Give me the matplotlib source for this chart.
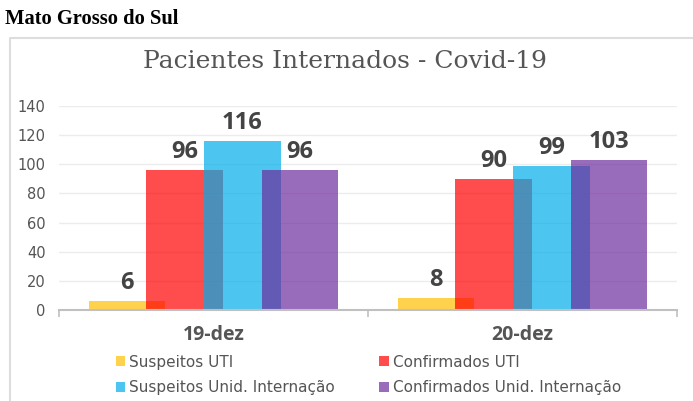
import matplotlib
matplotlib.use('Agg')
import matplotlib.pyplot as plt
import numpy as np
from matplotlib.lines import Line2D
from matplotlib.patches import Patch

categories = ['19-dez', '20-dez']
series_names = ['Suspeitos UTI', 'Confirmados UTI',
                'Suspeitos Unid. Internação', 'Confirmados Unid. Internação']
suspeitos_uti = [6, 8]
confirmados_uti = [96, 90]
suspeitos_unid = [116, 99]
confirmados_unid = [96, 103]
y_ticks = [0, 20, 40, 60, 80, 100, 120, 140]

colors = ['#ffc001', '#ff0000', '#00aeea', '#6e2d9e']
values = [suspeitos_uti, confirmados_uti, suspeitos_unid, confirmados_unid]

fig = plt.figure(figsize=(6.93, 4.01), dpi=100)
ax = fig.add_axes([59 / 693, 1 - 310 / 401, (677 - 59) / 693, (310 - 106) / 401])

x = np.arange(len(categories))
step = 0.187
width = 0.247
handles = []
for i, (vals, col) in enumerate(zip(values, colors)):
    pos = x + (i - 1.5) * step
    bars = ax.bar(pos, vals, width=width, color=col, alpha=0.7, linewidth=0, zorder=2 + i)
    handles.append(Patch(facecolor=col, alpha=0.7, linewidth=0))
    for p, v in zip(pos, vals):
        ax.annotate(str(v), (p, v), xytext=(0, 8.6), textcoords='offset points',
                    ha='center', va='baseline', fontsize=17, fontweight='bold',
                    family='Open Sans', color='#444444', zorder=10)

ax.set_xlim(-0.5, 1.5)
ax.set_ylim(0, 140)
ax.set_yticks(y_ticks)
ax.set_yticklabels([str(t) for t in y_ticks], fontsize=10.5, color='#555555')
ax.tick_params(axis='y', length=0, pad=9.5)
ax.grid(axis='y', color='#ececec', linewidth=1, zorder=0)
ax.set_axisbelow(True)

ax.set_xticks(x)
ax.set_xticklabels(categories, fontsize=14, fontweight='bold', family='Open Sans', color='#555555')
ax.set_xticks([-0.5, 0.5, 1.5], minor=True)
ax.tick_params(axis='x', which='major', length=0, pad=11)
ax.tick_params(axis='x', which='minor', length=5, color='#c0c0c0', width=1.2)

for s in ['top', 'right', 'left']:
    ax.spines[s].set_visible(False)
ax.spines['bottom'].set_color('#c0c0c0')
ax.spines['bottom'].set_linewidth(1.5)
ax.spines['bottom'].set_zorder(12)

order = [0, 2, 1, 3]
leg = fig.legend([handles[k] for k in order], [series_names[k] for k in order],
                 ncol=2, loc='center', bbox_to_anchor=(368.5 / 693, 1 - 375 / 401),
                 frameon=False, fontsize=11, handlelength=0.6, handleheight=0.6,
                 handletextpad=0.3, columnspacing=2.9, labelspacing=0.7)
for t in leg.get_texts():
    t.set_color('#555555')

# outer panel border
fig.add_artist(Line2D([10 / 693, 10 / 693, 1.0], [0.0, 1 - 38 / 401, 1 - 38 / 401],
                      transform=fig.transFigure, color='#dddddd', linewidth=1.5))

fig.text(345 / 693, 1 - 62 / 401, 'Pacientes Internados - Covid-19', ha='center', va='center',
         fontsize=18, family='DejaVu Serif', color='#555555')
fig.text(5 / 693, 1 - 19 / 401, 'Mato Grosso do Sul', ha='left', va='center',
         fontsize=14.8, fontweight='bold', family='Liberation Serif', color='black')

fig.savefig('out.png', dpi=100, facecolor='white')
